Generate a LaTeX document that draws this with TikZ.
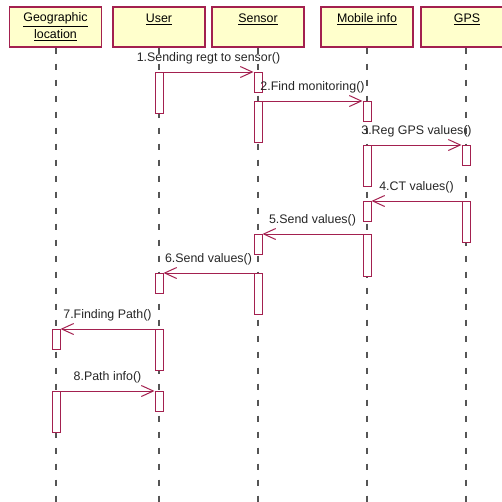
\documentclass[tikz,border=0pt]{standalone}
\usepackage{fontspec}
\setmainfont{Liberation Sans}
\usepackage{xcolor}
\usetikzlibrary{arrows.meta,positioning}
\definecolor{umlred}{HTML}{A3204F}
\definecolor{umlfill}{HTML}{FFFFCC}
\definecolor{lifegray}{HTML}{555555}

\begin{document}
\begin{tikzpicture}[x=1pt,y=-1pt,
          every node/.style={font=\fontsize{12.4}{17}\selectfont},
          object/.style={draw=umlred,line width=1.2pt,fill=umlfill,
                      minimum width=92pt,minimum height=40pt,
                      align=center,inner sep=0pt},
          actbar/.style={draw=umlred,line width=1pt,fill=white,
                      minimum width=8pt,anchor=north,inner sep=0pt},
          lifeline/.style={lifegray,line width=1.5pt,dash pattern=on 6pt off 10pt},
          msg/.style={umlred,line width=1pt,-{Straight Barb[length=12pt,width=11pt,line width=1pt]}},
          msglabel/.style={midway,above=7pt,inner sep=0pt,text=black!85},
      ]
        \clip (0,0) rectangle (502,501);

        % objects
        \node[object] (geo) at (55.5,27) {\underline{Geographic}\\\underline{location}};
        \node[object] (user) at (159,27) {\underline{User}\\\mbox{}};
        \node[object] (sensor) at (258,27) {\underline{Sensor}\\\mbox{}};
        \node[object] (mobile) at (367,27) {\underline{Mobile info}\\\mbox{}};
        \node[object] (gps) at (467,27) {\underline{GPS}\\\mbox{}};

        % lifelines
        \foreach \obj/\x in {geo/56,user/159,sensor/258,mobile/367,gps/466}{
          \coordinate (\obj-end) at (\x,505);
          \draw[lifeline] (\obj.south -| \obj-end) -- (\obj-end);
        }

        % activation bars
        \newcommand{\actbox}[4]{\node[actbar,minimum height=#4pt] (#1) at (#2,#3) {};}
        \actbox{g1}{56}{329}{20}
        \actbox{g2}{56}{391}{41}
        \actbox{u1}{159}{72}{41}
        \actbox{u2}{159}{273}{20}
        \actbox{u3}{159}{329}{41}
        \actbox{u4}{159}{391}{20}
        \actbox{s1}{258}{72}{20}
        \actbox{s2}{258}{101}{41}
        \actbox{s3}{258}{234}{20}
        \actbox{s4}{258}{273}{41}
        \actbox{m1}{367}{101}{20}
        \actbox{m2}{367}{145}{41}
        \actbox{m3}{367}{201}{20}
        \actbox{m4}{367}{234}{42}
        \actbox{p1}{466}{145}{20}
        \actbox{p2}{466}{201}{41}

        % messages
        \draw[msg] (u1.north east) -- (s1.north west)
          node[msglabel] {1.Sending regt to sensor()};
        \draw[msg] (s2.north east) -- (m1.north west)
          node[msglabel] {2.Find monitoring()};
        \draw[msg] (m2.north east) -- (p1.north west)
          node[msglabel] {3.Reg GPS values()};
        \draw[msg] (p2.north west) -- (m3.north east)
          node[msglabel] {4.CT values()};
        \draw[msg] (m4.north west) -- (s3.north east)
          node[msglabel] {5.Send values()};
        \draw[msg] (s4.north west) -- (u2.north east)
          node[msglabel] {6.Send values()};
        \draw[msg] (u3.north west) -- (g1.north east)
          node[msglabel] {7.Finding Path()};
        \draw[msg] (g2.north east) -- (u4.north west)
          node[msglabel] {8.Path info()};
      \end{tikzpicture}
\end{document}
